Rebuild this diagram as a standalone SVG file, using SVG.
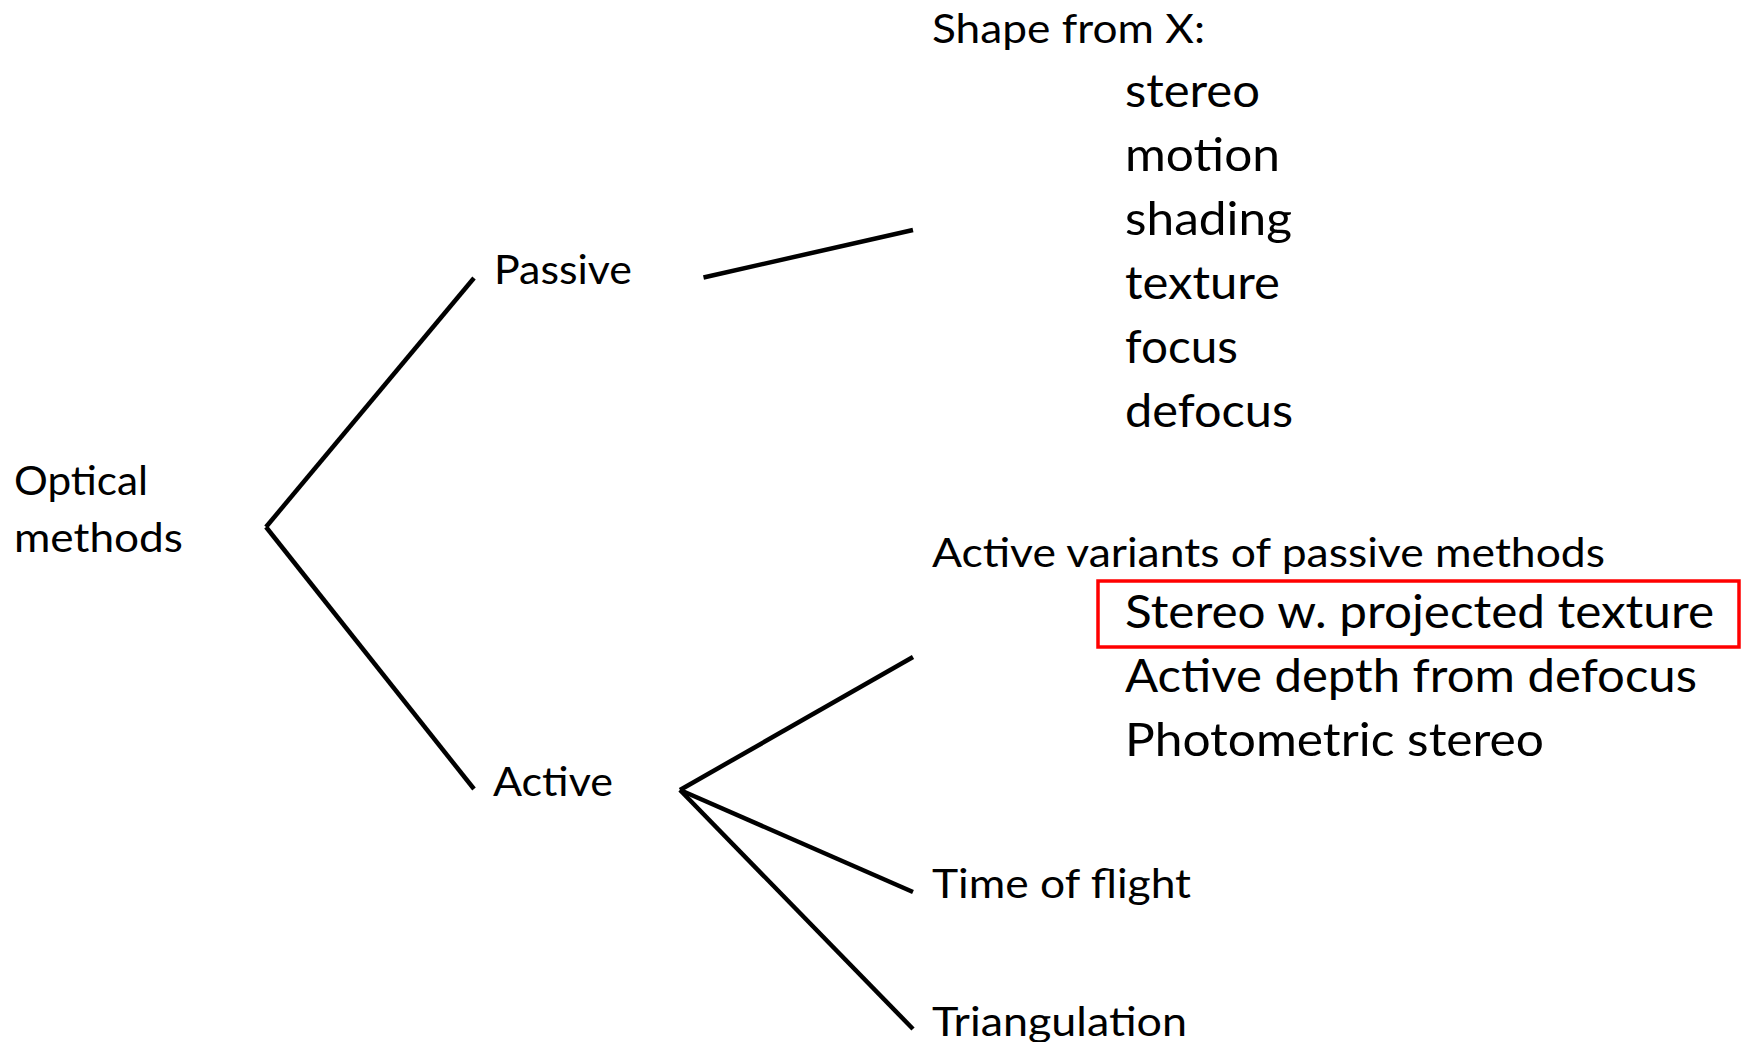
<svg xmlns="http://www.w3.org/2000/svg" width="1746" height="1042" viewBox="0 0 1746 1042">
<style>
.t{font-family:Lato,"Open Sans","Liberation Sans",sans-serif;fill:#000;font-size:41.5px}
.i{font-family:Lato,"Open Sans","Liberation Sans",sans-serif;fill:#000;font-size:46.5px}
.c line{stroke:#000;stroke-width:4.5;stroke-linecap:butt}
</style>
<rect width="1746" height="1042" fill="#fff"/>
<g class="c" id="connectors">
<line x1="266" y1="527" x2="474" y2="278"/>
<line x1="266" y1="527" x2="474" y2="789"/>
<line x1="703.5" y1="277.5" x2="913" y2="230"/>
<line x1="680" y1="790" x2="913" y2="657"/>
<line x1="680" y1="790" x2="913" y2="892"/>
<line x1="680" y1="790" x2="913" y2="1029"/>
</g>
<g id="optical">
<text class="t" x="14" y="495" textLength="134" lengthAdjust="spacingAndGlyphs">Optical</text>
<text class="t" x="14" y="552" textLength="169" lengthAdjust="spacingAndGlyphs">methods</text>
</g>
<g id="passive"><text class="t" x="494" y="284" textLength="138" lengthAdjust="spacingAndGlyphs">Passive</text></g>
<g id="active"><text class="t" x="493" y="796" textLength="120" lengthAdjust="spacingAndGlyphs">Active</text></g>
<g id="shape-from-x">
<text class="t" x="932" y="43" textLength="273" lengthAdjust="spacingAndGlyphs">Shape from X:</text>
<text class="i" x="1125" y="107" textLength="135" lengthAdjust="spacingAndGlyphs">stereo</text>
<text class="i" x="1125" y="171" textLength="155" lengthAdjust="spacingAndGlyphs">motion</text>
<text class="i" x="1125" y="235" textLength="167" lengthAdjust="spacingAndGlyphs">shading</text>
<text class="i" x="1125" y="299" textLength="155" lengthAdjust="spacingAndGlyphs">texture</text>
<text class="i" x="1125" y="363" textLength="113" lengthAdjust="spacingAndGlyphs">focus</text>
<text class="i" x="1125" y="427" textLength="168" lengthAdjust="spacingAndGlyphs">defocus</text>
</g>
<g id="active-variants">
<text class="t" x="932" y="567" textLength="673" lengthAdjust="spacingAndGlyphs">Active variants of passive methods</text>
<rect x="1098" y="581" width="641" height="66" fill="none" stroke="#ff0000" stroke-width="3.5"/>
<text class="i" x="1125" y="628" textLength="589" lengthAdjust="spacingAndGlyphs">Stereo w. projected texture</text>
<text class="i" x="1125" y="692" textLength="572" lengthAdjust="spacingAndGlyphs">Active depth from defocus</text>
<text class="i" x="1125" y="756" textLength="419" lengthAdjust="spacingAndGlyphs">Photometric stereo</text>
</g>
<g id="time-of-flight"><text class="t" x="932" y="898" textLength="259" lengthAdjust="spacingAndGlyphs">Time of flight</text></g>
<g id="triangulation"><text class="t" x="932" y="1036" textLength="255" lengthAdjust="spacingAndGlyphs">Triangulation</text></g>
</svg>
